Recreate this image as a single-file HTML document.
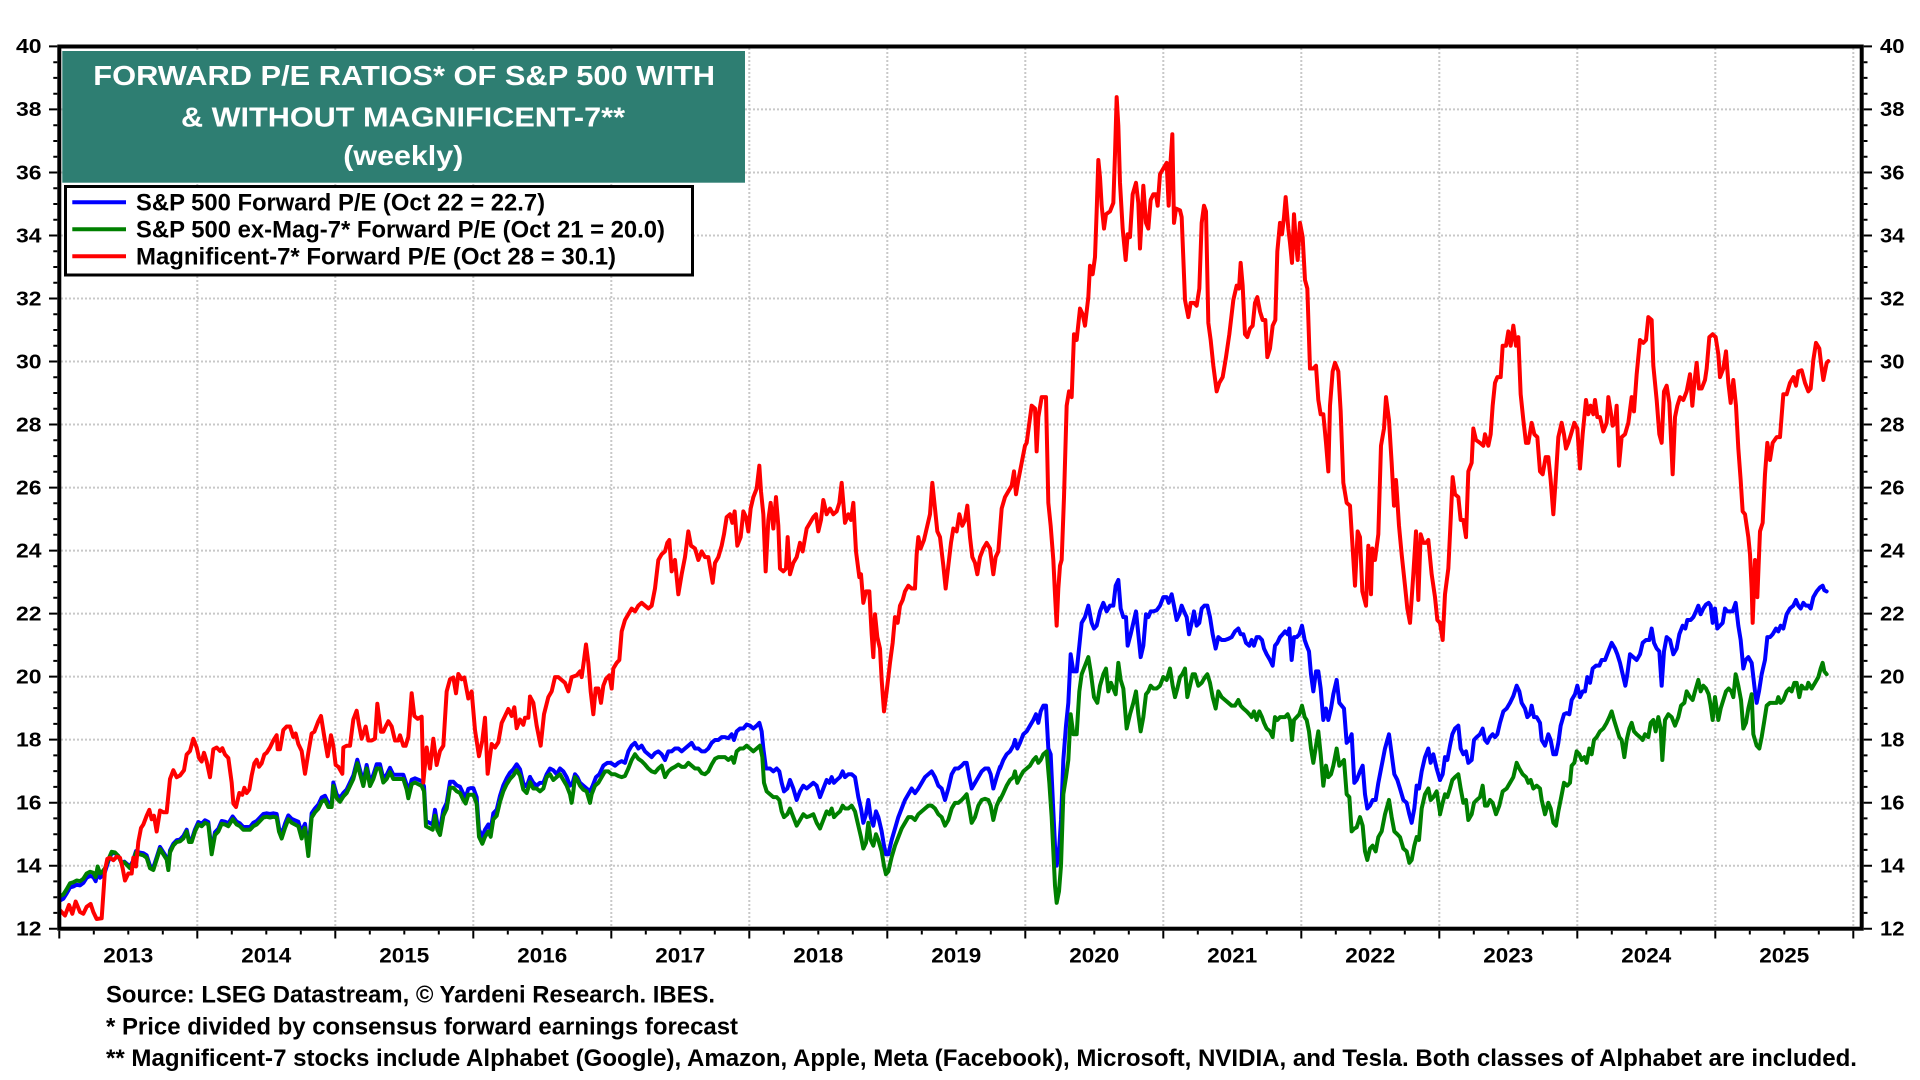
<!DOCTYPE html>
<html>
<head>
<meta charset="utf-8">
<style>
html,body{margin:0;padding:0;background:#fff;}
svg{display:block;}
text{font-family:"Liberation Sans",Arial,sans-serif;font-weight:bold;}
.s{fill:none;stroke-width:4;stroke-linejoin:round;stroke-linecap:round;vector-effect:non-scaling-stroke;}
.b{stroke:#0000ff;}
.g{stroke:#008000;}
.r{stroke:#ff0000;}
.grid{stroke:#c8c8c8;stroke-width:2;stroke-dasharray:2 2;fill:none;}
.tk{stroke:#000;stroke-width:2;fill:none;}
</style>
</head>
<body>
<svg width="1920" height="1080" viewBox="0 0 1920 1080" xmlns="http://www.w3.org/2000/svg">
<rect x="0" y="0" width="1920" height="1080" fill="#fff"/>

<!-- gridlines -->
<path class="grid" d="M61 865.7H1860M61 802.7H1860M61 739.6H1860M61 676.6H1860M61 613.6H1860M61 550.6H1860M61 487.6H1860M61 424.5H1860M61 361.5H1860M61 298.5H1860M61 235.5H1860M61 172.5H1860M61 109.4H1860"/>
<path class="grid" d="M197.3 48V927M335.3 48V927M473.3 48V927M611.3 48V927M749.3 48V927M887.3 48V927M1025.3 48V927M1163.3 48V927M1301.3 48V927M1439.3 48V927M1577.3 48V927M1715.3 48V927M1853.3 48V927"/>

<!-- title box -->
<rect x="62.3" y="51" width="682.7" height="131.7" fill="#2e7e72"/>
<text x="93.3" y="85" font-size="28" fill="#fff" textLength="621.7" lengthAdjust="spacingAndGlyphs">FORWARD P/E RATIOS* OF S&amp;P 500 WITH</text>
<text x="181" y="126.7" font-size="28" fill="#fff" textLength="444" lengthAdjust="spacingAndGlyphs">&amp; WITHOUT MAGNIFICENT-7**</text>
<text x="343.3" y="165" font-size="28" fill="#fff" textLength="120" lengthAdjust="spacingAndGlyphs">(weekly)</text>

<!-- legend -->
<rect x="65.5" y="186.5" width="627" height="88.5" fill="#fff" stroke="#000" stroke-width="3"/>
<line x1="72.3" y1="202.3" x2="126" y2="202.3" stroke="#0000ff" stroke-width="4"/>
<line x1="72.3" y1="229.3" x2="126" y2="229.3" stroke="#008000" stroke-width="4"/>
<line x1="72.3" y1="256.3" x2="126" y2="256.3" stroke="#ff0000" stroke-width="4"/>
<text x="136" y="210.7" font-size="24" fill="#000" textLength="409" lengthAdjust="spacingAndGlyphs">S&amp;P 500 Forward P/E (Oct 22 = 22.7)</text>
<text x="136" y="237.7" font-size="24" fill="#000" textLength="529" lengthAdjust="spacingAndGlyphs">S&amp;P 500 ex-Mag-7* Forward P/E (Oct 21 = 20.0)</text>
<text x="136" y="264.3" font-size="24" fill="#000" textLength="480" lengthAdjust="spacingAndGlyphs">Magnificent-7* Forward P/E (Oct 28 = 30.1)</text>

<!-- BLUE -->
<g transform="translate(55,380) scale(0.33333,0.35)">
<polyline class="s b" points="15,1487 25,1482 35,1467 45,1450 55,1447 65,1442 75,1444 85,1437 95,1422 105,1417 115,1420 122,1432 128,1402 135,1422 142,1417 150,1405 160,1375 170,1352 180,1352 190,1360 200,1380 208,1376 215,1382 225,1390 233,1376 243,1346 253,1350 265,1352 275,1358 285,1388 295,1393 305,1364 315,1334 325,1349 335,1364 340,1394 345,1344 355,1325 365,1315 375,1313 385,1303 395,1285 402,1314 410,1314 420,1284 430,1263 440,1268 450,1258 460,1263 470,1345 480,1292 490,1282 500,1260 510,1262 520,1267 533,1247 545,1262 555,1267 565,1277 575,1277 585,1277 595,1265 605,1260 615,1250 625,1240 635,1238 645,1240 655,1238 665,1240 672,1280 680,1298 690,1268 700,1244 710,1254 720,1258 730,1262 740,1296 745,1278 750,1268 760,1346 770,1238 780,1224 790,1213 800,1193 810,1188 820,1208 830,1208 835,1150 845,1184 855,1194 865,1180 875,1170 885,1150 895,1130 907,1085 915,1114 925,1148 935,1100 945,1148 955,1128 965,1098 975,1098 985,1138 995,1128 1005,1108 1015,1128 1025,1128 1035,1128 1045,1128 1055,1156 1060,1180 1070,1142 1080,1138 1090,1142 1100,1146 1107,1161 1113,1260 1123,1265 1133,1270 1140,1228 1147,1268 1155,1284 1165,1228 1175,1208 1185,1148 1195,1148 1205,1158 1215,1162 1225,1182 1232,1192 1240,1168 1248,1166 1255,1166 1265,1192 1272,1285 1282,1305 1290,1285 1300,1270 1307,1285 1315,1238 1325,1228 1335,1188 1345,1158 1355,1138 1365,1122 1375,1112 1385,1098 1395,1112 1405,1152 1415,1162 1425,1134"/>
</g>
<g transform="translate(530,40) scale(0.33333,0.5714)">
<polyline class="s b" points="0,1290 10,1300 20,1305 30,1300 40,1300 50,1285 60,1275 70,1278 80,1285 90,1275 100,1280 110,1290 120,1305 128,1300 135,1285 142,1290 150,1300 160,1305 170,1310 180,1315 188,1305 198,1290 208,1285 220,1270 232,1265 242,1265 255,1270 265,1265 275,1262 285,1265 295,1245 305,1235 315,1230 325,1240 335,1235 345,1245 355,1250 365,1255 375,1248 385,1245 395,1250 405,1260 415,1245 425,1245 435,1240 445,1240 455,1245 465,1240 475,1235 485,1230 495,1240 505,1240 515,1245 525,1245 535,1240 545,1230 555,1225 565,1225 575,1220 585,1220 595,1222 605,1215 612,1225 620,1210 630,1205 640,1205 650,1198 660,1200 670,1205 680,1200 688,1195 695,1210 700,1240 708,1275 720,1275 730,1280 740,1275 748,1280 755,1300 762,1315 772,1310 780,1295 790,1310 800,1330 810,1315 820,1305 830,1310 840,1305 850,1300 860,1305 870,1325 880,1310 890,1295 898,1300 905,1290 912,1300 920,1295 930,1290 938,1280 945,1290 955,1285 965,1285 975,1290 985,1325 993,1345 1000,1370 1008,1355 1015,1330 1022,1360 1030,1375 1038,1350 1045,1360 1055,1385 1062,1410 1068,1425 1075,1425 1085,1400 1095,1380 1105,1360 1115,1345 1125,1330 1135,1320 1145,1310 1155,1318 1165,1310 1175,1300 1185,1290 1195,1285 1205,1280 1215,1290 1225,1305 1235,1310 1245,1330 1255,1310 1265,1285 1275,1275 1285,1275 1295,1270 1303,1265 1310,1265 1318,1290 1325,1310 1335,1300 1345,1290 1355,1280 1365,1275 1375,1275 1382,1285 1390,1310 1400,1290 1410,1272"/>
</g>
<g transform="translate(1000,40) scale(0.33333,0.5714)">
<polyline class="s b" points="0,1275 10,1260 20,1250 30,1245 40,1235 45,1225 52,1240 60,1230 70,1215 80,1210 90,1200 100,1190 108,1180 115,1195 122,1175 130,1165 138,1165 145,1240 152,1250 160,1350 165,1410 170,1445 177,1420 183,1365 190,1260 198,1200 205,1160 212,1075 220,1105 230,1105 238,1060 245,1020 255,1010 265,990 275,1020 282,1030 290,1025 300,1000 310,985 320,1000 330,990 340,990 347,955 355,945 362,995 370,1010 378,1010 383,1060 392,1040 400,1020 408,1000 415,1040 422,1080 430,1060 438,1005 445,1010 452,1000 460,1000 470,998 480,990 490,975 500,975 506,985 515,970 522,990 530,1015 538,1005 545,990 552,1000 560,1010 567,1040 575,1020 582,1000 590,1025 598,1020 605,995 613,990 622,990 630,1010 638,1040 647,1065 655,1045 665,1050 675,1050 685,1048 695,1045 705,1035 715,1030 722,1040 730,1040 738,1055 748,1060 755,1050 762,1060 770,1045 778,1045 786,1050 792,1065 800,1075 810,1085 818,1095 825,1060 832,1055 840,1045 848,1040 855,1035 863,1040 868,1030 875,1085 882,1045 890,1045 898,1040 906,1025 914,1050 920,1060 927,1070 933,1110 940,1140 948,1105 955,1105 962,1135 970,1190 978,1170 985,1190 993,1170 1000,1145 1010,1120 1018,1160 1025,1165 1032,1170 1040,1230 1048,1225 1055,1215 1063,1300 1070,1295 1080,1280 1088,1270 1095,1320 1102,1345 1110,1340 1118,1330 1127,1330 1135,1300 1145,1270 1155,1240 1167,1215 1175,1250 1183,1285 1192,1295 1200,1310 1210,1330 1220,1335 1228,1355 1235,1370 1243,1345 1250,1305 1257,1310 1265,1280 1275,1255 1285,1240 1292,1265 1300,1250 1310,1275 1320,1295"/>
</g>
<g transform="translate(1440,40) scale(0.33333,0.5714)">
<polyline class="s b" points="0,1295 8,1285 15,1255 22,1260 30,1235 37,1215 45,1205 55,1200 62,1240 70,1250 78,1245 85,1265 95,1260 102,1225 110,1220 120,1215 128,1205 135,1225 142,1230 150,1220 158,1215 165,1220 172,1215 180,1195 190,1175 200,1170 210,1160 220,1148 230,1130 238,1140 245,1160 255,1170 262,1185 270,1180 275,1165 282,1185 290,1185 300,1195 305,1225 315,1235 325,1215 332,1225 340,1250 348,1250 355,1230 362,1200 372,1180 380,1178 388,1180 395,1155 405,1145 412,1130 420,1150 428,1140 435,1140 442,1115 450,1125 458,1100 468,1095 478,1095 485,1085 495,1085 505,1070 515,1055 525,1065 532,1075 540,1090 548,1110 556,1130 562,1110 570,1075 580,1080 590,1085 600,1075 608,1055 618,1050 628,1050 635,1030 642,1055 650,1065 658,1070 665,1130 672,1070 680,1045 690,1050 700,1075 710,1065 718,1040 728,1025 736,1030 742,1015 752,1015 760,1010 768,1000 775,990 782,1005 790,995 798,988 806,985 812,990 818,1020 825,995 832,1030 840,1025 848,1020 855,995 862,1000 870,1000 878,1000 887,985 895,1025 902,1050 910,1100 917,1085 925,1080 935,1090 945,1140 950,1160 957,1140 965,1110 975,1085 982,1045 990,1045 998,1040 1008,1030 1015,1035 1022,1025 1030,1030 1040,1005 1050,995 1060,990 1068,980 1075,990 1082,995 1090,985 1098,990 1105,990 1112,995 1120,975 1130,965 1140,958 1148,955 1153,963 1160,965"/>
</g>

<!-- GREEN -->
<g transform="translate(55,380) scale(0.33333,0.35)">
<polyline class="s g" points="15,1475 25,1470 35,1455 45,1438 55,1435 65,1430 75,1432 85,1425 95,1410 105,1405 115,1408 122,1420 128,1390 135,1410 142,1405 150,1395 160,1370 170,1348 180,1350 190,1360 200,1380 208,1378 215,1385 225,1395 233,1380 243,1350 253,1355 265,1358 275,1365 285,1395 295,1400 305,1370 315,1340 325,1355 335,1370 340,1400 345,1350 355,1330 365,1320 375,1318 385,1310 395,1290 402,1320 410,1320 420,1290 430,1270 440,1275 450,1265 460,1270 470,1355 480,1300 490,1290 500,1268 510,1270 520,1275 533,1255 545,1270 555,1275 565,1285 575,1285 585,1285 595,1275 605,1270 615,1260 625,1250 635,1248 645,1250 655,1248 665,1250 672,1290 680,1310 690,1280 700,1255 710,1265 720,1270 730,1275 740,1310 745,1290 750,1280 760,1360 770,1250 780,1235 790,1225 800,1205 810,1200 820,1220 830,1220 835,1160 845,1195 855,1205 865,1190 875,1180 885,1160 895,1140 907,1095 915,1125 925,1160 935,1110 945,1160 955,1140 965,1110 975,1110 985,1150 995,1140 1005,1120 1015,1140 1025,1140 1035,1140 1045,1140 1055,1170 1060,1195 1070,1155 1080,1150 1090,1155 1100,1160 1107,1175 1113,1275 1123,1280 1133,1285 1140,1245 1147,1285 1155,1300 1165,1245 1175,1225 1185,1165 1195,1165 1205,1175 1215,1180 1225,1200 1232,1210 1240,1185 1248,1185 1255,1185 1265,1210 1272,1305 1282,1325 1290,1305 1300,1290 1307,1305 1315,1255 1325,1245 1335,1205 1345,1175 1355,1155 1365,1140 1375,1130 1385,1115 1395,1130 1405,1170 1415,1180 1425,1150"/>
</g>
<g transform="translate(530,40) scale(0.33333,0.5714)">
<polyline class="s g" points="0,1299 10,1310 20,1310 30,1315 40,1310 50,1290 60,1285 70,1295 80,1290 90,1285 100,1295 110,1305 120,1320 125,1335 130,1315 135,1290 142,1295 150,1305 160,1312 170,1315 180,1335 185,1320 195,1305 205,1300 215,1290 225,1280 235,1280 245,1285 255,1285 265,1288 275,1290 285,1288 295,1275 305,1260 315,1250 325,1258 335,1262 345,1268 355,1275 365,1280 375,1282 385,1275 395,1270 405,1290 415,1280 425,1275 435,1272 445,1268 455,1272 465,1272 475,1265 485,1270 495,1275 505,1275 515,1283 525,1285 535,1280 545,1268 555,1258 565,1255 575,1255 585,1255 595,1260 605,1255 612,1265 620,1245 630,1240 640,1240 650,1235 660,1240 670,1245 680,1240 690,1235 697,1255 702,1300 710,1315 720,1320 730,1325 740,1325 748,1330 755,1350 762,1360 772,1355 780,1345 790,1360 800,1375 810,1365 820,1355 830,1360 840,1358 850,1355 860,1370 870,1380 880,1365 890,1350 898,1355 905,1345 912,1360 920,1355 930,1350 938,1340 945,1345 955,1345 965,1340 975,1350 985,1375 993,1395 1000,1415 1008,1405 1015,1370 1022,1400 1030,1410 1038,1390 1045,1400 1055,1420 1062,1445 1068,1460 1075,1455 1085,1430 1095,1410 1105,1395 1115,1380 1125,1370 1135,1360 1145,1360 1155,1365 1165,1355 1175,1350 1185,1345 1195,1340 1205,1340 1215,1345 1225,1355 1235,1360 1245,1375 1255,1365 1265,1345 1275,1335 1285,1335 1295,1330 1303,1325 1310,1320 1318,1345 1325,1370 1335,1360 1345,1340 1355,1330 1365,1328 1375,1330 1382,1340 1390,1365 1400,1340 1410,1327"/>
</g>
<g transform="translate(1000,40) scale(0.33333,0.5714)">
<polyline class="s g" points="0,1330 10,1318 20,1305 30,1295 40,1290 45,1280 52,1300 60,1290 70,1280 80,1275 90,1270 100,1260 108,1255 115,1265 122,1260 130,1250 140,1245 148,1300 155,1360 160,1420 165,1480 170,1510 177,1490 183,1445 190,1320 198,1290 205,1260 212,1180 220,1215 230,1215 238,1140 245,1110 255,1095 265,1080 272,1105 282,1150 292,1160 300,1130 310,1110 318,1100 325,1140 333,1125 340,1135 347,1145 355,1090 362,1120 370,1135 380,1205 390,1180 400,1160 408,1140 415,1180 422,1210 430,1185 438,1145 445,1140 452,1130 460,1135 470,1135 480,1130 490,1115 500,1120 510,1100 518,1130 525,1150 532,1135 540,1115 547,1110 555,1100 562,1150 570,1130 578,1110 585,1110 595,1130 605,1125 615,1115 622,1110 630,1125 638,1150 647,1170 655,1140 665,1150 675,1155 685,1160 695,1165 705,1165 715,1155 722,1165 730,1170 740,1175 748,1180 755,1185 762,1175 770,1190 778,1175 786,1185 792,1195 800,1205 810,1210 818,1220 825,1185 832,1190 840,1185 848,1185 855,1185 863,1180 870,1190 876,1225 882,1190 890,1185 898,1180 906,1165 914,1185 920,1190 927,1210 933,1240 940,1265 948,1235 955,1210 962,1250 970,1305 978,1270 985,1290 993,1285 1000,1270 1010,1240 1018,1270 1025,1265 1032,1260 1040,1320 1048,1325 1055,1385 1063,1380 1070,1378 1080,1360 1088,1375 1095,1420 1102,1435 1110,1415 1118,1410 1127,1420 1135,1395 1145,1385 1155,1355 1167,1330 1175,1360 1183,1385 1192,1390 1200,1395 1210,1415 1220,1420 1228,1440 1235,1435 1243,1410 1250,1395 1257,1400 1265,1345 1275,1320 1285,1310 1292,1330 1300,1325 1310,1315 1320,1352"/>
</g>
<g transform="translate(1440,40) scale(0.33333,0.5714)">
<polyline class="s g" points="0,1355 8,1335 15,1320 22,1325 30,1310 37,1295 45,1290 55,1285 62,1310 70,1335 78,1330 85,1365 95,1355 102,1335 110,1330 120,1325 128,1305 135,1340 142,1340 150,1330 158,1335 168,1355 178,1340 188,1315 200,1310 210,1300 220,1290 230,1265 238,1275 248,1285 258,1290 265,1300 272,1295 280,1310 290,1305 300,1310 305,1330 315,1355 325,1335 332,1345 340,1370 348,1375 355,1350 362,1330 372,1300 382,1305 390,1300 395,1270 403,1265 410,1245 418,1250 425,1260 433,1255 440,1265 448,1240 455,1250 462,1225 470,1220 480,1210 490,1205 500,1195 508,1185 515,1175 522,1190 530,1205 538,1220 545,1225 553,1255 560,1225 568,1205 575,1195 582,1210 590,1215 600,1220 608,1225 615,1215 625,1220 632,1195 640,1190 647,1210 655,1185 662,1205 667,1260 675,1190 685,1180 695,1185 705,1200 715,1185 723,1165 733,1160 740,1140 750,1150 758,1155 765,1140 775,1120 782,1140 790,1130 798,1135 806,1145 812,1165 818,1190 825,1150 830,1170 835,1190 842,1170 850,1155 858,1140 866,1135 874,1140 880,1150 887,1110 895,1130 903,1155 910,1205 918,1195 925,1170 935,1145 940,1215 950,1235 958,1240 965,1220 972,1195 980,1165 990,1160 1000,1160 1010,1160 1015,1150 1022,1160 1030,1155 1040,1140 1048,1135 1055,1140 1063,1125 1070,1125 1078,1150 1085,1130 1092,1135 1100,1135 1105,1125 1115,1135 1125,1125 1135,1115 1142,1100 1148,1090 1153,1105 1160,1110"/>
</g>

<!-- RED -->
<g transform="translate(55,380) scale(0.33333,0.35)">
<polyline class="s r" points="15,1515 30,1530 42,1500 52,1525 62,1490 75,1520 85,1525 95,1505 107,1497 115,1520 125,1540 140,1538 150,1400 157,1368 165,1365 175,1372 185,1362 195,1365 203,1395 210,1430 220,1410 230,1410 235,1365 243,1390 250,1320 258,1280 265,1270 275,1245 283,1228 290,1255 297,1245 305,1290 315,1230 325,1235 335,1235 345,1140 355,1115 365,1135 375,1130 387,1115 395,1070 405,1060 415,1025 425,1050 432,1080 440,1090 447,1065 455,1090 465,1135 475,1055 485,1050 495,1060 502,1052 510,1070 520,1080 530,1150 535,1210 543,1220 553,1180 562,1185 568,1165 575,1180 583,1170 590,1130 598,1095 605,1085 612,1105 620,1095 628,1070 635,1065 645,1050 655,1030 665,1015 668,1055 675,1055 685,1000 695,990 705,990 715,1020 722,1010 730,1040 740,1060 750,1125 760,1065 770,1010 778,1005 790,975 798,960 808,1020 818,1075 828,1015 835,1045 842,1100 850,1105 862,1125 865,1050 875,1045 885,1045 895,970 905,945 912,985 920,1025 932,990 940,1030 950,1030 960,1025 967,925 978,1005 985,1005 992,990 1000,975 1010,990 1020,1030 1030,1030 1035,1015 1045,1045 1052,1045 1060,1020 1070,895 1078,960 1088,968 1100,962 1105,1150 1115,1050 1125,1110 1135,1025 1145,1100 1155,1060 1165,1045 1175,890 1185,855 1195,850 1203,895 1210,840 1220,855 1228,850 1240,910 1250,890 1260,1000 1272,1075 1282,1030 1290,965 1298,1125 1310,1040 1320,1050 1330,1035 1340,980 1350,960 1360,940 1370,960 1378,935 1385,995 1395,970 1405,985 1410,965 1420,965 1425,905"/>
</g>
<g transform="translate(530,40) scale(0.33333,0.5714)">
<polyline class="s r" points="0,1149 10,1160 20,1200 32,1235 42,1180 55,1150 65,1140 75,1115 85,1115 95,1120 105,1125 115,1140 125,1115 140,1112 150,1105 155,1115 162,1085 168,1058 175,1090 182,1140 190,1180 197,1135 205,1135 213,1160 220,1130 228,1118 238,1112 245,1135 250,1100 260,1090 268,1085 275,1035 285,1015 295,1005 305,995 315,1000 325,990 335,985 345,990 355,995 365,990 375,960 385,910 395,900 405,895 412,880 418,875 425,930 435,910 445,970 455,935 465,905 475,860 483,885 495,890 505,910 515,895 525,905 535,905 548,950 555,915 565,905 575,885 582,865 590,835 600,830 607,845 614,825 622,885 632,870 640,825 648,835 655,860 662,820 670,800 680,785 688,745 693,790 700,830 707,930 715,840 722,810 730,855 738,800 745,850 750,925 760,930 768,925 773,870 780,935 790,915 800,905 810,880 818,895 830,855 840,845 850,835 858,830 865,860 873,840 880,805 890,830 900,820 910,830 920,825 928,810 935,775 945,845 955,830 963,840 970,810 978,895 988,940 993,935 1000,985 1008,965 1018,965 1025,1040 1030,1080 1035,1005 1042,1045 1050,1065 1055,1120 1062,1175 1070,1140 1080,1090 1088,1055 1095,1010 1103,1020 1110,990 1118,980 1125,965 1135,955 1145,960 1155,960 1160,900 1165,870 1172,890 1182,875 1192,850 1200,830 1207,775 1215,820 1222,860 1230,870 1240,920 1247,960 1255,920 1263,880 1270,855 1280,860 1288,830 1297,850 1305,840 1312,815 1320,870 1327,905 1335,915 1342,935 1350,905 1360,890 1370,880 1380,890 1390,935 1397,905 1405,895"/>
</g>
<g transform="translate(1000,40) scale(0.33333,0.5714)">
<polyline class="s r" points="-5,895 5,820 15,800 25,790 35,780 42,755 48,795 55,770 65,740 75,710 80,705 88,670 95,640 105,645 110,720 115,660 125,625 138,625 145,810 152,850 160,910 165,970 170,1025 175,960 180,920 185,910 192,800 200,640 207,615 215,625 222,515 230,525 240,470 248,480 255,500 265,450 270,395 278,410 285,380 290,300 295,210 300,240 305,290 312,330 318,305 330,300 340,285 345,200 350,100 355,150 360,250 368,330 377,385 383,340 390,345 398,270 408,250 415,285 420,365 430,255 438,320 445,330 452,280 460,270 468,270 473,290 480,235 490,225 500,215 506,290 512,210 517,165 522,320 528,295 540,298 545,310 555,455 565,485 572,460 582,460 590,465 598,435 605,320 612,290 618,300 625,495 632,525 640,570 650,615 658,600 668,590 678,555 688,515 700,455 710,430 717,435 722,390 728,430 735,515 742,520 750,505 758,500 765,460 772,450 780,475 788,490 796,490 802,555 810,540 818,500 826,490 832,370 840,320 846,340 852,310 857,275 865,330 870,355 876,390 882,305 888,355 893,385 900,320 908,345 915,420 922,435 930,575 940,575 948,570 955,630 962,655 970,655 978,705 985,755 990,640 998,580 1005,565 1015,580 1022,650 1030,775 1040,810 1050,815 1057,880 1065,955 1073,860 1080,870 1087,965 1098,990 1105,885 1113,970 1117,890 1125,910 1135,865 1143,710 1152,680 1158,625 1167,665 1175,740 1182,815 1188,770 1197,850 1205,900 1215,955 1222,995 1230,1020 1240,935 1248,860 1255,980 1262,865 1270,880 1278,880 1285,875 1295,935 1305,975 1312,1015 1320,1020"/>
</g>
<g transform="translate(1440,40) scale(0.33333,0.5714)">
<polyline class="s r" points="0,1020 8,1050 15,970 25,925 32,840 38,765 45,795 55,800 62,840 70,840 78,870 85,755 95,740 100,680 108,700 120,705 130,710 135,690 145,710 152,690 158,640 165,600 172,590 182,590 188,535 198,535 205,510 212,535 220,500 228,535 235,520 242,620 250,665 258,705 265,705 275,670 283,690 292,695 300,755 308,760 317,730 325,730 332,770 340,830 347,770 355,695 365,670 372,690 378,715 385,705 393,690 403,670 412,680 420,750 428,690 438,630 445,655 452,640 460,655 465,630 472,660 480,660 490,685 500,670 505,625 512,650 518,675 525,670 530,640 537,745 545,695 555,690 565,670 575,625 582,650 590,585 600,525 610,530 618,525 625,485 635,490 640,570 650,630 658,690 665,705 672,615 680,605 688,635 698,760 705,660 712,640 720,625 730,630 740,615 750,585 757,640 763,600 770,565 777,610 785,610 795,595 800,575 808,520 818,515 827,520 835,550 840,590 850,575 858,545 865,600 872,635 880,595 888,640 895,715 902,770 908,825 915,830 925,870 930,900 935,960 938,1020 945,910 952,975 960,860 968,845 975,760 982,705 990,735 998,705 1010,695 1020,695 1030,620 1040,620 1050,600 1060,590 1068,605 1075,580 1085,578 1095,600 1105,615 1112,610 1120,560 1128,530 1138,540 1143,565 1150,595 1160,565 1165,562"/>
</g>

<!-- frame -->
<rect x="59.3" y="46.5" width="1802.4" height="882.2" fill="none" stroke="#000" stroke-width="4"/>

<!-- left ticks -->
<path class="tk" d="M53.3 912.9H57.3M53.3 897.2H57.3M53.3 881.4H57.3M53.3 849.9H57.3M53.3 834.2H57.3M53.3 818.4H57.3M53.3 786.9H57.3M53.3 771.1H57.3M53.3 755.4H57.3M53.3 723.9H57.3M53.3 708.1H57.3M53.3 692.4H57.3M53.3 660.9H57.3M53.3 645.1H57.3M53.3 629.4H57.3M53.3 597.8H57.3M53.3 582.1H57.3M53.3 566.3H57.3M53.3 534.8H57.3M53.3 519.1H57.3M53.3 503.3H57.3M53.3 471.8H57.3M53.3 456.1H57.3M53.3 440.3H57.3M53.3 408.8H57.3M53.3 393.0H57.3M53.3 377.3H57.3M53.3 345.8H57.3M53.3 330.0H57.3M53.3 314.3H57.3M53.3 282.7H57.3M53.3 267.0H57.3M53.3 251.2H57.3M53.3 219.7H57.3M53.3 204.0H57.3M53.3 188.2H57.3M53.3 156.7H57.3M53.3 141.0H57.3M53.3 125.2H57.3M53.3 93.7H57.3M53.3 77.9H57.3M53.3 62.2H57.3"/>
<path class="tk" d="M49 928.7H57.3M49 865.7H57.3M49 802.7H57.3M49 739.6H57.3M49 676.6H57.3M49 613.6H57.3M49 550.6H57.3M49 487.6H57.3M49 424.5H57.3M49 361.5H57.3M49 298.5H57.3M49 235.5H57.3M49 172.5H57.3M49 109.4H57.3M49 46.4H57.3"/>
<!-- right ticks -->
<path class="tk" d="M1863.7 912.9H1867.5M1863.7 897.2H1867.5M1863.7 881.4H1867.5M1863.7 849.9H1867.5M1863.7 834.2H1867.5M1863.7 818.4H1867.5M1863.7 786.9H1867.5M1863.7 771.1H1867.5M1863.7 755.4H1867.5M1863.7 723.9H1867.5M1863.7 708.1H1867.5M1863.7 692.4H1867.5M1863.7 660.9H1867.5M1863.7 645.1H1867.5M1863.7 629.4H1867.5M1863.7 597.8H1867.5M1863.7 582.1H1867.5M1863.7 566.3H1867.5M1863.7 534.8H1867.5M1863.7 519.1H1867.5M1863.7 503.3H1867.5M1863.7 471.8H1867.5M1863.7 456.1H1867.5M1863.7 440.3H1867.5M1863.7 408.8H1867.5M1863.7 393.0H1867.5M1863.7 377.3H1867.5M1863.7 345.8H1867.5M1863.7 330.0H1867.5M1863.7 314.3H1867.5M1863.7 282.7H1867.5M1863.7 267.0H1867.5M1863.7 251.2H1867.5M1863.7 219.7H1867.5M1863.7 204.0H1867.5M1863.7 188.2H1867.5M1863.7 156.7H1867.5M1863.7 141.0H1867.5M1863.7 125.2H1867.5M1863.7 93.7H1867.5M1863.7 77.9H1867.5M1863.7 62.2H1867.5"/>
<path class="tk" d="M1863.7 928.7H1872M1863.7 865.7H1872M1863.7 802.7H1872M1863.7 739.6H1872M1863.7 676.6H1872M1863.7 613.6H1872M1863.7 550.6H1872M1863.7 487.6H1872M1863.7 424.5H1872M1863.7 361.5H1872M1863.7 298.5H1872M1863.7 235.5H1872M1863.7 172.5H1872M1863.7 109.4H1872M1863.7 46.4H1872"/>
<!-- bottom ticks -->
<path class="tk" d="M93.8 930.7V934.5M128.3 930.7V934.5M162.8 930.7V934.5M231.8 930.7V934.5M266.3 930.7V934.5M300.8 930.7V934.5M369.8 930.7V934.5M404.3 930.7V934.5M438.8 930.7V934.5M507.8 930.7V934.5M542.3 930.7V934.5M576.8 930.7V934.5M645.8 930.7V934.5M680.3 930.7V934.5M714.8 930.7V934.5M783.8 930.7V934.5M818.3 930.7V934.5M852.8 930.7V934.5M921.8 930.7V934.5M956.3 930.7V934.5M990.8 930.7V934.5M1059.8 930.7V934.5M1094.3 930.7V934.5M1128.8 930.7V934.5M1197.8 930.7V934.5M1232.3 930.7V934.5M1266.8 930.7V934.5M1335.8 930.7V934.5M1370.3 930.7V934.5M1404.8 930.7V934.5M1473.8 930.7V934.5M1508.3 930.7V934.5M1542.8 930.7V934.5M1611.8 930.7V934.5M1646.3 930.7V934.5M1680.8 930.7V934.5M1749.8 930.7V934.5M1784.3 930.7V934.5M1818.8 930.7V934.5"/>
<path class="tk" d="M59.3 930.7V938.5M197.3 930.7V938.5M335.3 930.7V938.5M473.3 930.7V938.5M611.3 930.7V938.5M749.3 930.7V938.5M887.3 930.7V938.5M1025.3 930.7V938.5M1163.3 930.7V938.5M1301.3 930.7V938.5M1439.3 930.7V938.5M1577.3 930.7V938.5M1715.3 930.7V938.5M1853.3 930.7V938.5"/>

<!-- left labels -->
<g font-size="20" fill="#000">
<text x="16" y="935.5" textLength="25.5" lengthAdjust="spacingAndGlyphs">12</text>
<text x="16" y="872.5" textLength="25.5" lengthAdjust="spacingAndGlyphs">14</text>
<text x="16" y="809.5" textLength="25.5" lengthAdjust="spacingAndGlyphs">16</text>
<text x="16" y="746.4" textLength="25.5" lengthAdjust="spacingAndGlyphs">18</text>
<text x="16" y="683.4" textLength="25.5" lengthAdjust="spacingAndGlyphs">20</text>
<text x="16" y="620.4" textLength="25.5" lengthAdjust="spacingAndGlyphs">22</text>
<text x="16" y="557.4" textLength="25.5" lengthAdjust="spacingAndGlyphs">24</text>
<text x="16" y="494.4" textLength="25.5" lengthAdjust="spacingAndGlyphs">26</text>
<text x="16" y="431.3" textLength="25.5" lengthAdjust="spacingAndGlyphs">28</text>
<text x="16" y="368.3" textLength="25.5" lengthAdjust="spacingAndGlyphs">30</text>
<text x="16" y="305.3" textLength="25.5" lengthAdjust="spacingAndGlyphs">32</text>
<text x="16" y="242.3" textLength="25.5" lengthAdjust="spacingAndGlyphs">34</text>
<text x="16" y="179.3" textLength="25.5" lengthAdjust="spacingAndGlyphs">36</text>
<text x="16" y="116.2" textLength="25.5" lengthAdjust="spacingAndGlyphs">38</text>
<text x="16" y="53.2" textLength="25.5" lengthAdjust="spacingAndGlyphs">40</text>
<!-- right labels -->
<text x="1880" y="935.5" textLength="24.5" lengthAdjust="spacingAndGlyphs">12</text>
<text x="1880" y="872.5" textLength="24.5" lengthAdjust="spacingAndGlyphs">14</text>
<text x="1880" y="809.5" textLength="24.5" lengthAdjust="spacingAndGlyphs">16</text>
<text x="1880" y="746.4" textLength="24.5" lengthAdjust="spacingAndGlyphs">18</text>
<text x="1880" y="683.4" textLength="24.5" lengthAdjust="spacingAndGlyphs">20</text>
<text x="1880" y="620.4" textLength="24.5" lengthAdjust="spacingAndGlyphs">22</text>
<text x="1880" y="557.4" textLength="24.5" lengthAdjust="spacingAndGlyphs">24</text>
<text x="1880" y="494.4" textLength="24.5" lengthAdjust="spacingAndGlyphs">26</text>
<text x="1880" y="431.3" textLength="24.5" lengthAdjust="spacingAndGlyphs">28</text>
<text x="1880" y="368.3" textLength="24.5" lengthAdjust="spacingAndGlyphs">30</text>
<text x="1880" y="305.3" textLength="24.5" lengthAdjust="spacingAndGlyphs">32</text>
<text x="1880" y="242.3" textLength="24.5" lengthAdjust="spacingAndGlyphs">34</text>
<text x="1880" y="179.3" textLength="24.5" lengthAdjust="spacingAndGlyphs">36</text>
<text x="1880" y="116.2" textLength="24.5" lengthAdjust="spacingAndGlyphs">38</text>
<text x="1880" y="53.2" textLength="24.5" lengthAdjust="spacingAndGlyphs">40</text>
</g>

<!-- year labels -->
<g font-size="21" fill="#000">
<text x="103.3" y="962.7" textLength="50" lengthAdjust="spacingAndGlyphs">2013</text>
<text x="241.3" y="962.7" textLength="50" lengthAdjust="spacingAndGlyphs">2014</text>
<text x="379.3" y="962.7" textLength="50" lengthAdjust="spacingAndGlyphs">2015</text>
<text x="517.3" y="962.7" textLength="50" lengthAdjust="spacingAndGlyphs">2016</text>
<text x="655.3" y="962.7" textLength="50" lengthAdjust="spacingAndGlyphs">2017</text>
<text x="793.3" y="962.7" textLength="50" lengthAdjust="spacingAndGlyphs">2018</text>
<text x="931.3" y="962.7" textLength="50" lengthAdjust="spacingAndGlyphs">2019</text>
<text x="1069.3" y="962.7" textLength="50" lengthAdjust="spacingAndGlyphs">2020</text>
<text x="1207.3" y="962.7" textLength="50" lengthAdjust="spacingAndGlyphs">2021</text>
<text x="1345.3" y="962.7" textLength="50" lengthAdjust="spacingAndGlyphs">2022</text>
<text x="1483.3" y="962.7" textLength="50" lengthAdjust="spacingAndGlyphs">2023</text>
<text x="1621.3" y="962.7" textLength="50" lengthAdjust="spacingAndGlyphs">2024</text>
<text x="1759.3" y="962.7" textLength="50" lengthAdjust="spacingAndGlyphs">2025</text>
</g>

<!-- footer -->
<g font-size="24" fill="#000">
<text x="106" y="1002.3" textLength="609" lengthAdjust="spacingAndGlyphs">Source: LSEG Datastream, © Yardeni Research. IBES.</text>
<text x="106" y="1034.3" textLength="632" lengthAdjust="spacingAndGlyphs">* Price divided by consensus forward earnings forecast</text>
<text x="106" y="1066" textLength="1751" lengthAdjust="spacingAndGlyphs">** Magnificent-7 stocks include Alphabet (Google), Amazon, Apple, Meta (Facebook), Microsoft, NVIDIA, and Tesla. Both classes of Alphabet are included.</text>
</g>
</svg>
</body>
</html>
